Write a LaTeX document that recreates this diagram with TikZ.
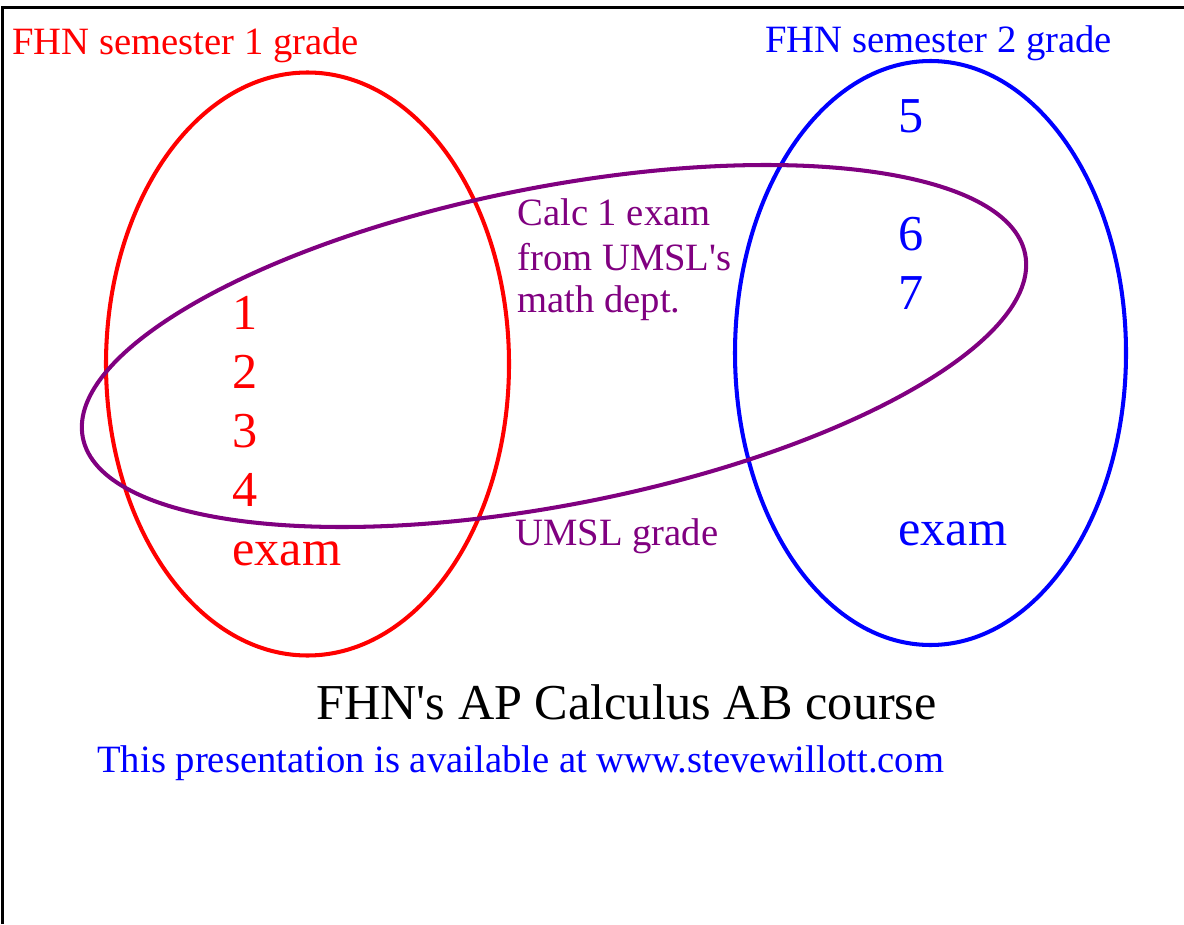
\documentclass[tikz,border=0pt]{standalone}
\usepackage{fontspec}
\setmainfont{Liberation Serif}
\usepackage{xcolor}
\usepackage{tikz}
\usetikzlibrary{positioning}
\definecolor{semred}{HTML}{FF0000}
\definecolor{semblue}{HTML}{0000FF}
\definecolor{umslpurple}{HTML}{800080}
\definecolor{framegray}{HTML}{000000}
\tikzset{
  % --- the three sets ---
  ring/.style={line width=2.3pt},
  ringred/.style={ring, draw=semred},
  ringblue/.style={ring, draw=semblue},
  ringpurple/.style={ring, draw=umslpurple},
  % --- labels ---
  lbl/.style={inner sep=0pt, anchor=base west, font=\fontsize{22}{26}\selectfont},
  biglbl/.style={lbl, font=\fontsize{28.6}{34}\selectfont},
  redlbl/.style={lbl, text=semred},
  bluelbl/.style={lbl, text=semblue},
  purplelbl/.style={lbl, text=umslpurple},
}
\begin{document}
\begin{tikzpicture}
  \useasboundingbox (0,0) rectangle (23.68,-18.48);
  % page frame (only top and left edges show)
  \draw[framegray, line width=1.7pt] (0.05,-18.48) -- (0.05,-0.15) -- (23.68,-0.15);
  % set centres
  \coordinate (sem1) at (6.15,-7.28);
  \coordinate (sem2) at (18.61,-7.06);
  \coordinate (umsl) at (11.08,-6.92);
  % rings
  \draw[ringred] (sem1) ellipse [x radius=4.03, y radius=5.83];
  \draw[ringblue] (sem2) ellipse [x radius=3.91, y radius=5.84];
  \draw[ringpurple, rotate around={11:(umsl)}] (umsl) ellipse [x radius=9.6, y radius=3.18];
  % set titles
  \node[redlbl] (sem1title) at (0.24,-1.10) {FHN semester 1 grade};
  \node[bluelbl] (sem2title) at (15.30,-1.06) {FHN semester 2 grade};
  % semester 1 members
  \foreach \t [count=\i] in {1,2,3,4,exam}
    \node[redlbl, biglbl, text=semred] (s1-\i) at (4.64,{-6.58-1.18*(\i-1)}) {\t};
  % semester 2 members
  \foreach \t/\y in {5/-2.66, 6/-5.00, 7/-6.18, exam/-10.90}
    \node[biglbl, text=semblue] (s2-\t) at (17.96,\y) {\t};
  % UMSL set texts
  \foreach \t/\y [count=\i] in {Calc 1 exam/-4.50, from UMSL\textquotesingle s/-5.40, math dept./-6.24}
    \node[purplelbl] (calc\i) at (10.34,\y) {\t};
  \node[purplelbl] (umslgrade) at (10.30,-10.90) {UMSL grade};
  % course and footer
  \node[biglbl] (course) at (6.32,-14.38) {FHN\textquotesingle s AP Calculus AB course};
  \node[bluelbl] (website) at (1.94,-15.44) {This presentation is available at www.stevewillott.com};
\end{tikzpicture}
\end{document}
